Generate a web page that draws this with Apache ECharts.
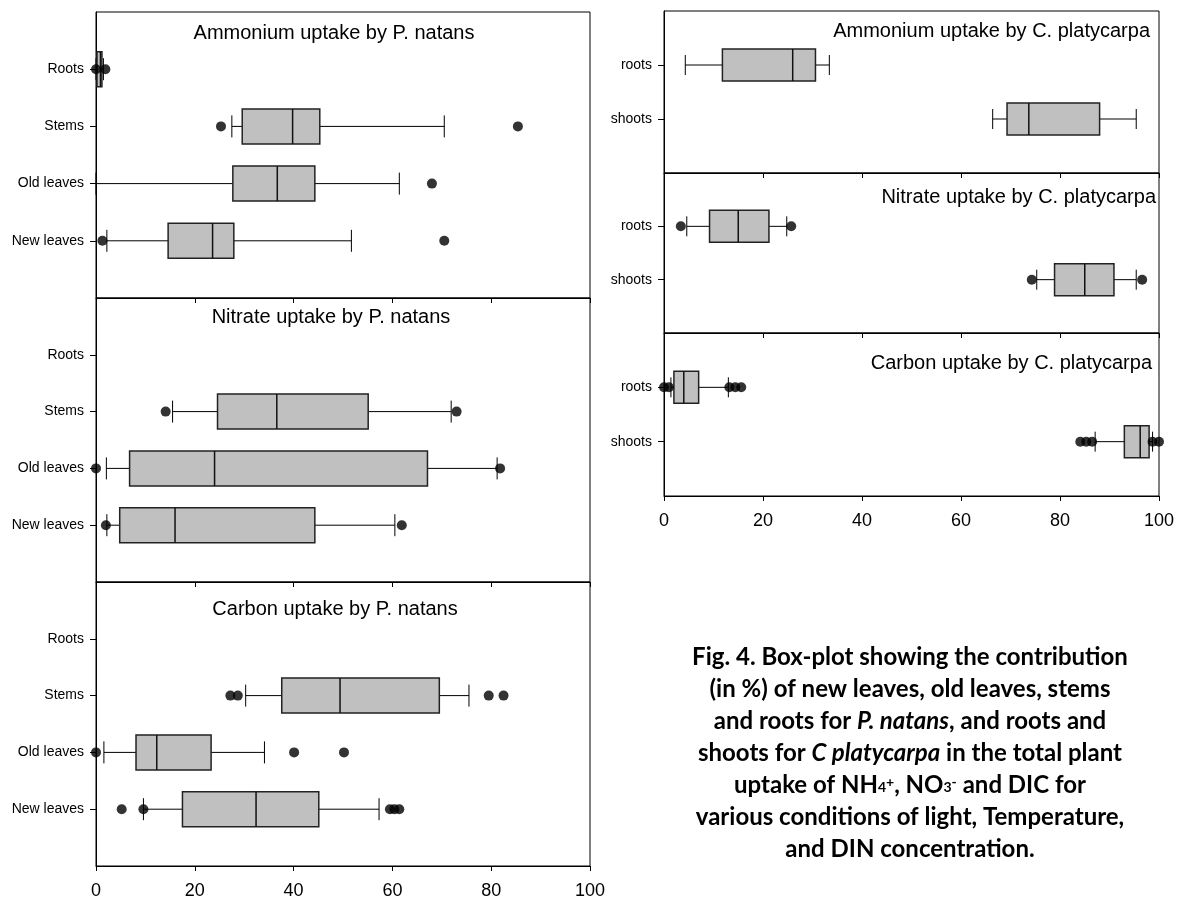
<!DOCTYPE html>
<html><head><meta charset="utf-8">
<script src="https://cdn.jsdelivr.net/npm/echarts@6/dist/echarts.min.js"></script>
<style>html,body{margin:0;padding:0;background:#fff}#c{width:1180px;height:901px}</style>
</head><body><div id="c"></div>
<script>
// ---------- DATA ----------
const pnCategories = ['Roots', 'Stems', 'Old leaves', 'New leaves'];
const cpCategories = ['roots', 'shoots'];
const xTickStep = 20;

// five-number rows: [lower whisker, Q1, median, Q3, upper whisker]; null = no box
const pnAmmoniumBox = [[0, 0.2, 0.9, 1.2, 1.5], [27.5, 29.6, 39.8, 45.3, 70.5], [0, 27.7, 36.7, 44.3, 61.4], [2.2, 14.6, 23.6, 27.9, 51.7]];
const pnAmmoniumOut = [[0, 1.9], [25.3, 85.4], [68.0], [1.3, 70.5]];
const pnNitrateBox = [null, [15.5, 24.6, 36.6, 55.1, 71.9], [2.1, 6.8, 24.0, 67.1, 81.2], [2.2, 4.8, 16.0, 44.3, 60.5]];
const pnNitrateOut = [[], [14.1, 73.0], [0, 81.8], [2.0, 61.9]];
const pnCarbonBox = [null, [30.3, 37.6, 49.4, 69.5, 75.5], [1.6, 8.1, 12.3, 23.3, 34.1], [9.6, 17.5, 32.4, 45.1, 57.3]];
const pnCarbonOut = [[], [27.2, 28.7, 79.5, 82.5], [0, 40.1, 50.2], [5.2, 9.6, 59.5, 60.4, 61.4]];
const cpAmmoniumBox = [[4.3, 11.8, 26.0, 30.6, 33.4], [66.4, 69.3, 73.7, 88.0, 95.4]];
const cpAmmoniumOut = [[], []];
const cpNitrateBox = [[4.6, 9.2, 15.0, 21.2, 24.8], [75.3, 78.9, 85.0, 90.9, 95.4]];
const cpNitrateOut = [[3.4, 25.7], [74.3, 96.6]];
const cpCarbonBox = [[1.4, 2.0, 4.0, 7.0, 13.0], [87.1, 93.0, 96.2, 98.0, 98.7]];
const cpCarbonOut = [[0, 1.0, 13.2, 14.4, 15.6], [84.1, 85.3, 86.5, 98.7, 100]];

const panelTitles = ['Ammonium uptake by P. natans', 'Nitrate uptake by P. natans', 'Carbon uptake by P. natans',
  'Ammonium uptake by C. platycarpa', 'Nitrate uptake by C. platycarpa', 'Carbon uptake by C. platycarpa'];

// ---------- LAYOUT ----------
const FONT = "'Liberation Sans', Arial, sans-serif";
const panels = [
  { box: pnAmmoniumBox, out: pnAmmoniumOut, cats: pnCategories, rect: { left: 96, top: 12, width: 494, height: 286 }, bottom: false, bh: 35, ch: 22, title: { x: 334, y: 33, align: 'center' } },
  { box: pnNitrateBox, out: pnNitrateOut, cats: pnCategories, rect: { left: 96, top: 298, width: 494, height: 284 }, bottom: false, bh: 35, ch: 22, title: { x: 331, y: 317, align: 'center' } },
  { box: pnCarbonBox, out: pnCarbonOut, cats: pnCategories, rect: { left: 96, top: 582, width: 494, height: 284 }, bottom: true, bh: 35, ch: 22, title: { x: 335, y: 609, align: 'center' } },
  { box: cpAmmoniumBox, out: cpAmmoniumOut, cats: cpCategories, rect: { left: 664, top: 11, width: 495, height: 162 }, bottom: false, bh: 32, ch: 20, title: { x: 1150, y: 31, align: 'right' } },
  { box: cpNitrateBox, out: cpNitrateOut, cats: cpCategories, rect: { left: 664, top: 173, width: 495, height: 160 }, bottom: false, bh: 32, ch: 20, title: { x: 1156, y: 197, align: 'right' } },
  { box: cpCarbonBox, out: cpCarbonOut, cats: cpCategories, rect: { left: 664, top: 333, width: 495, height: 163 }, bottom: true, bh: 32, ch: 20, title: { x: 1152, y: 363, align: 'right' } }
];

function boxRows(arr) {
  const r = [];
  arr.forEach((b, i) => { if (b) r.push([i + 1].concat(b)); });
  return r;
}
function outRows(arr) {
  const r = [];
  arr.forEach((vs, i) => vs.forEach(v => r.push([v, i + 1])));
  return r;
}
function makeRender(bh, ch) {
  return function (params, api) {
    const yi = api.value(0);
    const X = [1, 2, 3, 4, 5].map(k => api.coord([api.value(k), yi])[0]);
    const cy = api.coord([0, yi])[1];
    const thin = { stroke: '#000', lineWidth: 1 };
    return {
      type: 'group',
      children: [
        { type: 'line', shape: { x1: X[0], y1: cy, x2: X[1], y2: cy }, style: thin },
        { type: 'line', shape: { x1: X[3], y1: cy, x2: X[4], y2: cy }, style: thin },
        { type: 'line', shape: { x1: X[0], y1: cy - ch / 2, x2: X[0], y2: cy + ch / 2 }, style: thin },
        { type: 'line', shape: { x1: X[4], y1: cy - ch / 2, x2: X[4], y2: cy + ch / 2 }, style: thin },
        { type: 'rect', shape: { x: X[1], y: cy - bh / 2, width: X[3] - X[1], height: bh }, style: { fill: '#c0c0c0', stroke: '#222', lineWidth: 1.5 } },
        { type: 'line', shape: { x1: X[2], y1: cy - bh / 2, x2: X[2], y2: cy + bh / 2 }, style: { stroke: '#111', lineWidth: 1.5 } }
      ]
    };
  };
}

const grid = [], xAxis = [], yAxis = [], series = [], title = [];
panels.forEach((p, i) => {
  grid.push(Object.assign({ show: true, borderColor: '#000', borderWidth: 1, backgroundColor: 'transparent' }, p.rect));
  xAxis.push({
    gridIndex: i, type: 'value', min: 0, max: 100, interval: xTickStep,
    axisLine: { show: true, lineStyle: { color: '#000', width: 1 } },
    axisTick: { show: true, length: 5, lineStyle: { color: '#000' } },
    axisLabel: { show: p.bottom, fontSize: 18, color: '#000', fontFamily: FONT, margin: 16 },
    splitLine: { show: false }
  });
  const cats = [''].concat(p.cats, ['']);
  const n = cats.length;
  yAxis.push({
    gridIndex: i, type: 'category', data: cats, inverse: true, boundaryGap: false,
    axisLine: { show: true, lineStyle: { color: '#000', width: 1 } },
    axisTick: { show: true, length: 6, lineStyle: { color: '#000' }, interval: (idx) => idx > 0 && idx < n - 1 },
    axisLabel: { interval: 0, fontSize: 14, color: '#000', fontFamily: FONT, margin: 12 },
    splitLine: { show: false }
  });
  series.push({
    type: 'custom', xAxisIndex: i, yAxisIndex: i, coordinateSystem: 'cartesian2d',
    encode: { x: [1, 2, 3, 4, 5], y: 0 }, data: boxRows(p.box), renderItem: makeRender(p.bh, p.ch), z: 2, silent: true
  });
  series.push({
    type: 'scatter', xAxisIndex: i, yAxisIndex: i, data: outRows(p.out), symbol: 'circle', symbolSize: 10,
    itemStyle: { color: '#000' }, z: 3, silent: true
  });
  title.push({
    text: panelTitles[i], left: p.title.x, top: p.title.y, padding: 0,
    textAlign: p.title.align, textVerticalAlign: 'middle',
    textStyle: { fontFamily: FONT, fontSize: 20, fontWeight: 'normal', color: '#000' }
  });
});

const CAP = "Lato, 'Open Sans', sans-serif";
title.push({
  text: '{b|Fig. 4. Box-plot showing the contribution}\n' +
        '{b|(in %) of new leaves, old leaves, stems}\n' +
        '{b|and roots for }{i|P. natans}{b|, and roots and}\n' +
        '{b|shoots for }{i|C platycarpa}{b| in the total plant}\n' +
        '{b|uptake of NH}{sub|4}{sup|+}{b|, NO}{sub|3}{sup|-}{b| and DIC for}\n' +
        '{b|various conditions of light, Temperature,}\n' +
        '{b|and DIN concentration.}',
  left: 910, top: 641, padding: 0, textAlign: 'center', textVerticalAlign: 'top',
  textStyle: {
    rich: {
      b: { fontFamily: CAP, fontWeight: 'bold', fontSize: 24, lineHeight: 32, color: '#000' },
      i: { fontFamily: CAP, fontWeight: 'bold', fontStyle: 'italic', fontSize: 24, lineHeight: 32, color: '#000' },
      sub: { fontFamily: CAP, fontWeight: 'bold', fontSize: 14, lineHeight: 14, verticalAlign: 'bottom', padding: [0, 0, 7, 0], color: '#000' },
      sup: { fontFamily: CAP, fontWeight: 'bold', fontSize: 14, lineHeight: 14, verticalAlign: 'top', padding: [6, 0, 0, 0], color: '#000' }
    }
  }
});

const chart = echarts.init(document.getElementById('c'), null, { renderer: 'canvas' });
chart.setOption({ animation: false, backgroundColor: '#fff', title, grid, xAxis, yAxis, series });
</script>
</body></html>
